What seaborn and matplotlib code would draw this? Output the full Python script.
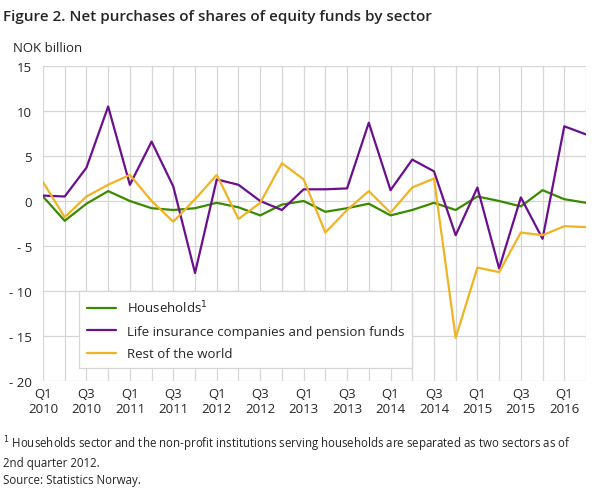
import matplotlib
matplotlib.use('Agg')
import matplotlib.pyplot as plt
import seaborn as sns
import pandas as pd

quarters = [f'Q{q} {y}' for y in range(2010, 2017) for q in range(1, 5)][:26]
households = [0.5, -2.2, -0.3, 1.1, 0.0, -0.8, -1.0, -0.8, -0.2, -0.7, -1.6, -0.4, 0.0,
              -1.2, -0.8, -0.3, -1.6, -1.0, -0.2, -1.0, 0.5, 0.0, -0.6, 1.2, 0.2, -0.2]
life_pension = [0.6, 0.5, 3.7, 10.5, 1.8, 6.6, 1.6, -8.0, 2.4, 1.8, 0.0, -1.0, 1.3,
                1.3, 1.4, 8.7, 1.2, 4.6, 3.3, -3.8, 1.5, -7.5, 0.4, -4.2, 8.3, 7.4]
rest_world = [2.1, -1.8, 0.5, 1.8, 2.9, 0.0, -2.3, 0.2, 2.9, -2.0, -0.2, 4.2, 2.4,
              -3.5, -1.0, 1.1, -1.3, 1.5, 2.5, -15.2, -7.4, -7.9, -3.5, -3.8, -2.8, -2.9]
names = ['Households$^1$', 'Life insurance companies and pension funds', 'Rest of the world']
colors = ['#3a8a00', '#6a0f8e', '#f0b323']
yticks = [-20, -15, -10, -5, 0, 5, 10, 15]

df = pd.DataFrame({'idx': range(len(quarters)), names[0]: households,
                   names[1]: life_pension, names[2]: rest_world})
long = df.melt(id_vars='idx', var_name='sector', value_name='value')

sns.set_style('whitegrid')
plt.rcParams['font.family'] = ['Open Sans', 'DejaVu Sans']

fig = plt.figure(figsize=(6.09, 4.89), dpi=100)
ax = fig.add_axes([43/609, 1-382/489, (586-43)/609, (382-67)/489])
sns.lineplot(data=long, x='idx', y='value', hue='sector', palette=colors,
             hue_order=names, linewidth=1.6, ax=ax)

ax.set_xlim(0, len(quarters)-1)
ax.set_ylim(-20, 15)
ax.set_xticks(range(len(quarters)))
ax.set_xticklabels([q.replace(' ', '\n') if i % 2 == 0 else '' for i, q in enumerate(quarters)],
                   fontsize=9.5)
ax.set_yticks(yticks)
ax.set_yticklabels([f'- {abs(v)}' if v < 0 else str(v) for v in yticks], fontsize=9.5)
ax.grid(True, axis='both', color='#d6d6d6', linewidth=0.9)
ax.set_axisbelow(True)
ax.tick_params(length=0)
ax.tick_params(axis='y', pad=8)
ax.tick_params(axis='x', pad=4)
for s in ax.spines.values():
    s.set_visible(False)
ax.set_xlabel('')
ax.set_ylabel('')

leg = ax.legend(loc='lower left', bbox_to_anchor=(0.055, 0.02), fontsize=9.5, frameon=True,
                fancybox=False, edgecolor='#d6d6d6', handlelength=2.2, borderpad=0.6,
                labelspacing=0.7, framealpha=1)
leg.get_frame().set_linewidth(0.9)

fig.text(0.005, 0.965, 'Figure 2. Net purchases of shares of equity funds by sector',
         fontsize=11, fontweight='semibold', va='center')
fig.text(0.022, 0.9, 'NOK billion', fontsize=9.5, va='center')
fig.text(0.005, 0.076, '$^1$ Households sector and the non-profit institutions serving households are separated as two sectors as of\n2nd quarter 2012.',
         fontsize=8.3, va='center', linespacing=1.3)
fig.text(0.005, 0.017, 'Source: Statistics Norway.', fontsize=8.3, va='center')

fig.savefig('out.png', dpi=100)
